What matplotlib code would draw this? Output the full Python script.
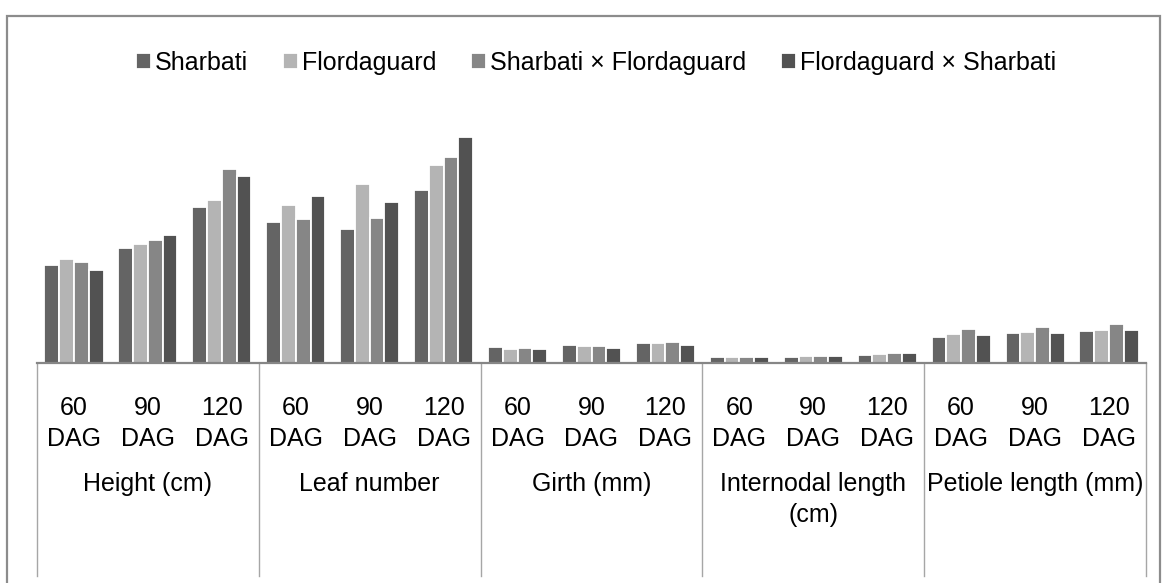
import matplotlib
matplotlib.use("Agg")
import matplotlib.pyplot as plt
import matplotlib.transforms as mtransforms
from matplotlib.patches import Rectangle
import numpy as np

# data (arbitrary common scale)
groups = ["Height (cm)", "Leaf number", "Girth (mm)", "Internodal length\n(cm)", "Petiole length (mm)"]
stages = ["60\nDAG", "90\nDAG", "120\nDAG"]
series_names = ["Sharbati", "Flordaguard", "Sharbati \u00d7 Flordaguard", "Flordaguard \u00d7 Sharbati"]
sharbati = [97.7, 115.0, 155.7, 141.0, 133.7, 172.7, 16.3, 18.0, 20.3, 5.7, 5.7, 8.3, 26.3, 29.7, 31.7]
flordaguard = [104.0, 119.3, 163.0, 158.3, 179.0, 198.0, 14.3, 16.7, 20.3, 6.3, 7.0, 9.3, 29.0, 31.0, 33.0]
s_x_f = [101.3, 122.7, 194.3, 144.3, 145.0, 206.3, 15.3, 16.7, 20.7, 6.3, 7.0, 10.3, 34.0, 36.0, 38.7]
f_x_s = [93.0, 128.3, 186.7, 166.7, 161.0, 226.3, 14.3, 15.3, 18.0, 5.7, 7.0, 10.3, 28.3, 30.3, 33.0]
colors = ["#646464", "#b4b4b4", "#868686", "#525252"]

plt.rcParams['font.family'] = ['Liberation Sans', 'DejaVu Sans']
FS = 18

W, H = 1162, 583
fig = plt.figure(figsize=(W / 100, H / 100), dpi=100)

# axes placed in pixel terms
ax_left, ax_right, base_px, top_px = 37, 1146, 363, 110
ax = fig.add_axes([ax_left / W, 1 - base_px / H, (ax_right - ax_left) / W, (base_px - top_px) / H])

n_cat = len(groups) * len(stages)
x = np.arange(n_cat)
bw = 0.2
all_series = [sharbati, flordaguard, s_x_f, f_x_s]
for i, (name, vals, c) in enumerate(zip(series_names, all_series, colors)):
    ax.bar(x + (i - 1.5) * bw, vals, width=bw, color=c, edgecolor="white",
           linewidth=1.3, label=name, zorder=2)

ax.set_xlim(-0.5, n_cat - 0.5)
ax.set_ylim(0, base_px - top_px)
ax.set_yticks([])
ax.set_xticks([])
for s in ["left", "top", "right"]:
    ax.spines[s].set_visible(False)
ax.spines["bottom"].set_color("#868686")
ax.spines["bottom"].set_linewidth(1.6)


def yfrac(px):
    return (base_px - px) / (base_px - top_px)


trans = mtransforms.blended_transform_factory(ax.transData, ax.transAxes)

# category labels
for k in range(n_cat):
    ax.text(k, yfrac(396), stages[k % 3], transform=trans, ha="center", va="top",
            fontsize=FS, linespacing=1.36, color="black")

# group labels and separators
for g, name in enumerate(groups):
    cx = g * 3 + 1
    ax.text(cx, yfrac(472), name, transform=trans, ha="center", va="top",
            fontsize=FS, linespacing=1.36, color="black")
for g in range(len(groups) + 1):
    xs = g * 3 - 0.5
    ax.plot([xs, xs], [0, yfrac(576)], transform=trans, color="#a6a6a6",
            linewidth=1.0, clip_on=False, zorder=1)

# legend
fig.legend(loc="center", bbox_to_anchor=(596 / W, 1 - 63 / H), ncol=4, frameon=False,
           fontsize=FS, handlelength=0.6, handleheight=0.6, handletextpad=0.15,
           columnspacing=1.4, borderpad=0)

# outer frame, cut at the bottom
fig.patches.append(Rectangle((7 / W, -0.05), (1160 - 7) / W, (1 - 16 / H) + 0.05,
                             transform=fig.transFigure, fill=False,
                             edgecolor="#8c8c8c", linewidth=1.6, zorder=0))

fig.savefig("out.png", dpi=100)
